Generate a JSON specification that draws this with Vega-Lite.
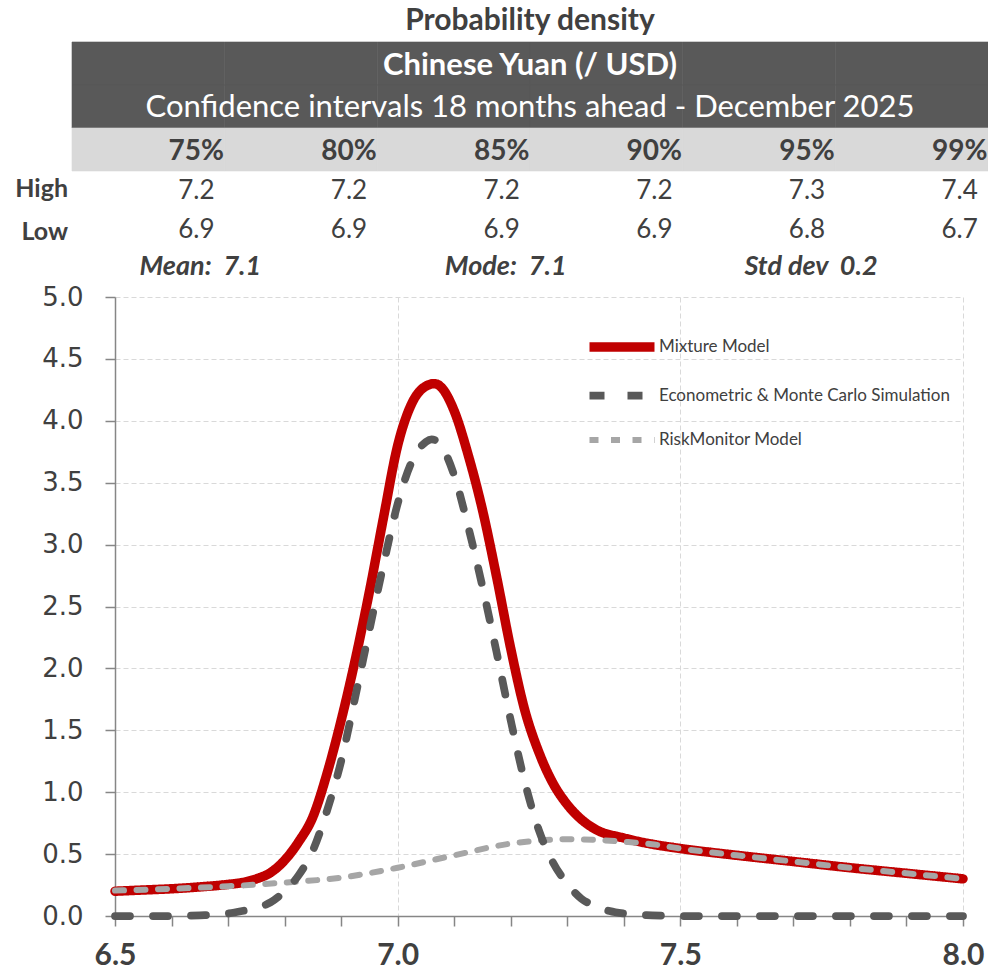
{
  "$schema": "https://vega.github.io/schema/vega-lite/v6.json",
  "width": 848,
  "height": 619,
  "autosize": {"type": "none"},
  "padding": {"left": 115, "top": 297, "right": 25, "bottom": 59},
  "background": "white",
  "config": {
    "view": {"stroke": null},
    "font": "Lato",
    "legend": {
      "orient": "none",
      "legendX": 482,
      "legendY": 25,
      "title": null,
      "symbolType": "M-1.625,0H1.625",
      "symbolSize": 1600,
      "labelFont": "Lato",
      "labelFontSize": 17,
      "labelColor": "#404040",
      "labelLimit": 400,
      "labelOffset": 12,
      "rowPadding": 5.5
    }
  },
  "datasets": {
    "density": [
      {"series": "Mixture Model", "x": 6.5, "y": 0.2},
      {"series": "Mixture Model", "x": 6.55, "y": 0.21},
      {"series": "Mixture Model", "x": 6.6, "y": 0.22},
      {"series": "Mixture Model", "x": 6.65, "y": 0.235},
      {"series": "Mixture Model", "x": 6.7, "y": 0.255},
      {"series": "Mixture Model", "x": 6.725, "y": 0.27},
      {"series": "Mixture Model", "x": 6.75, "y": 0.3},
      {"series": "Mixture Model", "x": 6.775, "y": 0.35},
      {"series": "Mixture Model", "x": 6.8, "y": 0.45},
      {"series": "Mixture Model", "x": 6.825, "y": 0.6},
      {"series": "Mixture Model", "x": 6.85, "y": 0.8},
      {"series": "Mixture Model", "x": 6.875, "y": 1.15},
      {"series": "Mixture Model", "x": 6.9, "y": 1.58},
      {"series": "Mixture Model", "x": 6.925, "y": 2.07},
      {"series": "Mixture Model", "x": 6.95, "y": 2.62},
      {"series": "Mixture Model", "x": 6.975, "y": 3.22},
      {"series": "Mixture Model", "x": 7.0, "y": 3.8},
      {"series": "Mixture Model", "x": 7.025, "y": 4.14},
      {"series": "Mixture Model", "x": 7.05, "y": 4.28},
      {"series": "Mixture Model", "x": 7.065, "y": 4.3},
      {"series": "Mixture Model", "x": 7.075, "y": 4.28},
      {"series": "Mixture Model", "x": 7.1, "y": 4.08},
      {"series": "Mixture Model", "x": 7.125, "y": 3.72},
      {"series": "Mixture Model", "x": 7.15, "y": 3.28},
      {"series": "Mixture Model", "x": 7.175, "y": 2.74},
      {"series": "Mixture Model", "x": 7.2, "y": 2.16},
      {"series": "Mixture Model", "x": 7.225, "y": 1.66},
      {"series": "Mixture Model", "x": 7.25, "y": 1.32},
      {"series": "Mixture Model", "x": 7.275, "y": 1.07},
      {"series": "Mixture Model", "x": 7.3, "y": 0.9},
      {"series": "Mixture Model", "x": 7.325, "y": 0.78},
      {"series": "Mixture Model", "x": 7.35, "y": 0.7},
      {"series": "Mixture Model", "x": 7.4, "y": 0.63},
      {"series": "Mixture Model", "x": 7.45, "y": 0.58},
      {"series": "Mixture Model", "x": 7.5, "y": 0.545},
      {"series": "Mixture Model", "x": 7.6, "y": 0.49},
      {"series": "Mixture Model", "x": 7.7, "y": 0.44},
      {"series": "Mixture Model", "x": 7.8, "y": 0.39},
      {"series": "Mixture Model", "x": 7.9, "y": 0.345},
      {"series": "Mixture Model", "x": 8.0, "y": 0.3},
      {"series": "Econometric & Monte Carlo Simulation", "x": 6.5, "y": 0},
      {"series": "Econometric & Monte Carlo Simulation", "x": 6.6, "y": 0},
      {"series": "Econometric & Monte Carlo Simulation", "x": 6.65, "y": 0.005},
      {"series": "Econometric & Monte Carlo Simulation", "x": 6.7, "y": 0.02},
      {"series": "Econometric & Monte Carlo Simulation", "x": 6.725, "y": 0.04},
      {"series": "Econometric & Monte Carlo Simulation", "x": 6.75, "y": 0.065},
      {"series": "Econometric & Monte Carlo Simulation", "x": 6.775, "y": 0.11},
      {"series": "Econometric & Monte Carlo Simulation", "x": 6.8, "y": 0.2},
      {"series": "Econometric & Monte Carlo Simulation", "x": 6.825, "y": 0.33},
      {"series": "Econometric & Monte Carlo Simulation", "x": 6.85, "y": 0.53},
      {"series": "Econometric & Monte Carlo Simulation", "x": 6.875, "y": 0.85},
      {"series": "Econometric & Monte Carlo Simulation", "x": 6.9, "y": 1.25},
      {"series": "Econometric & Monte Carlo Simulation", "x": 6.925, "y": 1.77},
      {"series": "Econometric & Monte Carlo Simulation", "x": 6.95, "y": 2.31},
      {"series": "Econometric & Monte Carlo Simulation", "x": 6.975, "y": 2.84},
      {"series": "Econometric & Monte Carlo Simulation", "x": 7.0, "y": 3.33},
      {"series": "Econometric & Monte Carlo Simulation", "x": 7.025, "y": 3.67},
      {"series": "Econometric & Monte Carlo Simulation", "x": 7.05, "y": 3.83},
      {"series": "Econometric & Monte Carlo Simulation", "x": 7.06, "y": 3.85},
      {"series": "Econometric & Monte Carlo Simulation", "x": 7.075, "y": 3.81},
      {"series": "Econometric & Monte Carlo Simulation", "x": 7.1, "y": 3.56},
      {"series": "Econometric & Monte Carlo Simulation", "x": 7.125, "y": 3.14},
      {"series": "Econometric & Monte Carlo Simulation", "x": 7.15, "y": 2.66},
      {"series": "Econometric & Monte Carlo Simulation", "x": 7.175, "y": 2.13},
      {"series": "Econometric & Monte Carlo Simulation", "x": 7.2, "y": 1.58},
      {"series": "Econometric & Monte Carlo Simulation", "x": 7.225, "y": 1.08},
      {"series": "Econometric & Monte Carlo Simulation", "x": 7.25, "y": 0.69},
      {"series": "Econometric & Monte Carlo Simulation", "x": 7.275, "y": 0.43},
      {"series": "Econometric & Monte Carlo Simulation", "x": 7.3, "y": 0.26},
      {"series": "Econometric & Monte Carlo Simulation", "x": 7.325, "y": 0.14},
      {"series": "Econometric & Monte Carlo Simulation", "x": 7.35, "y": 0.08},
      {"series": "Econometric & Monte Carlo Simulation", "x": 7.375, "y": 0.04},
      {"series": "Econometric & Monte Carlo Simulation", "x": 7.4, "y": 0.02},
      {"series": "Econometric & Monte Carlo Simulation", "x": 7.45, "y": 0.005},
      {"series": "Econometric & Monte Carlo Simulation", "x": 7.5, "y": 0},
      {"series": "Econometric & Monte Carlo Simulation", "x": 8.0, "y": 0},
      {"series": "RiskMonitor Model", "x": 6.5, "y": 0.205},
      {"series": "RiskMonitor Model", "x": 6.6, "y": 0.22},
      {"series": "RiskMonitor Model", "x": 6.7, "y": 0.24},
      {"series": "RiskMonitor Model", "x": 6.8, "y": 0.27},
      {"series": "RiskMonitor Model", "x": 6.9, "y": 0.31},
      {"series": "RiskMonitor Model", "x": 7.0, "y": 0.39},
      {"series": "RiskMonitor Model", "x": 7.1, "y": 0.49},
      {"series": "RiskMonitor Model", "x": 7.2, "y": 0.585},
      {"series": "RiskMonitor Model", "x": 7.25, "y": 0.61},
      {"series": "RiskMonitor Model", "x": 7.3, "y": 0.62},
      {"series": "RiskMonitor Model", "x": 7.35, "y": 0.615},
      {"series": "RiskMonitor Model", "x": 7.4, "y": 0.6},
      {"series": "RiskMonitor Model", "x": 7.45, "y": 0.58},
      {"series": "RiskMonitor Model", "x": 7.5, "y": 0.545},
      {"series": "RiskMonitor Model", "x": 7.6, "y": 0.49},
      {"series": "RiskMonitor Model", "x": 7.7, "y": 0.44},
      {"series": "RiskMonitor Model", "x": 7.8, "y": 0.39},
      {"series": "RiskMonitor Model", "x": 7.9, "y": 0.345},
      {"series": "RiskMonitor Model", "x": 8.0, "y": 0.3}
    ],
    "table": [
      {"level": "75%", "high": 7.2, "low": 6.9},
      {"level": "80%", "high": 7.2, "low": 6.9},
      {"level": "85%", "high": 7.2, "low": 6.9},
      {"level": "90%", "high": 7.2, "low": 6.9},
      {"level": "95%", "high": 7.3, "low": 6.8},
      {"level": "99%", "high": 7.4, "low": 6.7}
    ],
    "stats": [
      {"level": "75%", "stat": "Mean:\u00a0 7.1"},
      {"level": "85%", "stat": "Mode:\u00a0 7.1"},
      {"level": "95%", "stat": "Std dev\u00a0 0.2"}
    ],
    "rows": [
      {"row": "High"},
      {"row": "Low"}
    ],
    "titles": [
      {"line": "title", "text": "Probability density"},
      {"line": "name", "text": "Chinese Yuan (/ USD)"},
      {"line": "sub", "text": "Confidence intervals 18 months ahead - December 2025"}
    ]
  },
  "layer": [
    {
      "encoding": {
        "x": {
          "field": "x",
          "type": "quantitative",
          "scale": {"domain": [6.5, 8.0], "nice": false, "zero": false},
          "axis": {
            "title": null,
            "values": [6.5, 6.6, 6.7, 6.8, 6.9, 7.0, 7.1, 7.2, 7.3, 7.4, 7.5, 7.6, 7.7, 7.8, 7.9, 8.0],
            "labelExpr": "abs(datum.value*2 - round(datum.value*2)) < 0.001 ? format(datum.value, '.1f') : ''",
            "labelFlush": false,
            "labelOverlap": false,
            "labelFont": "Lato",
            "labelFontSize": 30,
            "labelFontWeight": "bold",
            "labelColor": "#404040",
            "labelPadding": 14,
            "domainColor": "#868686",
            "domainWidth": 1.5,
            "tickColor": "#868686",
            "tickWidth": 1.5,
            "tickSize": 10,
            "grid": true,
            "gridColor": "#D9D9D9",
            "gridDash": [5, 3],
            "gridWidth": 1,
            "gridOpacity": {"condition": {"test": "abs(datum.value*2 - round(datum.value*2)) < 0.001", "value": 1}, "value": 0}
          }
        },
        "y": {
          "field": "y",
          "type": "quantitative",
          "scale": {"domain": [0, 5], "nice": false},
          "axis": {
            "title": null,
            "values": [0, 0.5, 1, 1.5, 2, 2.5, 3, 3.5, 4, 4.5, 5],
            "format": ".1f",
            "labelFont": "DejaVu Sans",
            "labelFontSize": 26,
            "labelColor": "#404040",
            "labelPadding": 22,
            "domainColor": "#868686",
            "domainWidth": 1.5,
            "tickColor": "#868686",
            "tickWidth": 1.5,
            "tickSize": 10,
            "grid": true,
            "gridColor": "#D9D9D9",
            "gridDash": [5, 3],
            "gridWidth": 1
          }
        },
        "color": {
          "field": "series",
          "type": "nominal",
          "scale": {
            "domain": ["Mixture Model", "Econometric & Monte Carlo Simulation", "RiskMonitor Model"],
            "range": ["#C00000", "#595959", "#A6A6A6"]
          }
        },
        "strokeDash": {
          "field": "series",
          "type": "nominal",
          "scale": {
            "domain": ["Mixture Model", "Econometric & Monte Carlo Simulation", "RiskMonitor Model"],
            "range": [[1, 0], [15, 23], [9, 12.5]]
          }
        },
        "strokeWidth": {
          "field": "series",
          "type": "nominal",
          "scale": {
            "domain": ["Mixture Model", "Econometric & Monte Carlo Simulation", "RiskMonitor Model"],
            "range": [9.5, 6, 6]
          }
        }
      },
      "layer": [
        {
          "data": {"name": "density"},
          "transform": [{"filter": "datum.series === 'Mixture Model'"}],
          "mark": {"type": "line", "interpolate": "monotone", "strokeCap": "round", "strokeJoin": "round"}
        },
        {
          "data": {"name": "density"},
          "transform": [{"filter": "datum.series === 'RiskMonitor Model'"}],
          "mark": {"type": "line", "interpolate": "monotone", "strokeCap": "round", "strokeJoin": "round"}
        },
        {
          "data": {"name": "density"},
          "transform": [{"filter": "datum.series === 'Econometric & Monte Carlo Simulation'"}],
          "mark": {"type": "line", "interpolate": "monotone", "strokeCap": "round", "strokeJoin": "round"}
        }
      ]
    },
    {
      "layer": [
        {
          "data": {"name": "table"},
          "mark": {"type": "rect", "fill": "#595959", "stroke": "#595959", "strokeWidth": 0.6},
          "encoding": {
            "x": {"field": "level", "type": "nominal", "axis": null, "scale": {"type": "band", "domain": ["75%", "80%", "85%", "90%", "95%", "99%"], "range": [-43, 873], "paddingInner": 0, "paddingOuter": 0}},
            "y": {"datum": "name", "type": "nominal", "axis": null, "scale": {"type": "band", "domain": ["title", "name", "sub", "pct", "High", "Low", "stats"], "range": [-298, 3], "paddingInner": 0, "paddingOuter": 0}}
          }
        },
        {
          "data": {"name": "table"},
          "mark": {"type": "rect", "fill": "#595959", "stroke": "#595959", "strokeWidth": 0.6},
          "encoding": {
            "x": {"field": "level", "type": "nominal", "axis": null},
            "y": {"datum": "sub", "type": "nominal", "axis": null}
          }
        },
        {
          "data": {"name": "table"},
          "mark": {"type": "rect", "fill": "#D9D9D9", "stroke": "#D9D9D9", "strokeWidth": 0.6},
          "encoding": {
            "x": {"field": "level", "type": "nominal", "axis": null},
            "y": {"datum": "pct", "type": "nominal", "axis": null}
          }
        },
        {
          "data": {"name": "titles"},
          "transform": [{"filter": "datum.line === 'title'"}],
          "mark": {"type": "text", "font": "Lato", "fontSize": 30, "fontWeight": "bold", "color": "#404040", "align": "center", "baseline": "middle", "dy": 0},
          "encoding": {
            "x": {"datum": "90%", "type": "nominal", "bandPosition": 0, "axis": null},
            "y": {"field": "line", "type": "nominal", "bandPosition": 0.5, "axis": null},
            "text": {"field": "text"}
          }
        },
        {
          "data": {"name": "titles"},
          "transform": [{"filter": "datum.line === 'name'"}],
          "mark": {"type": "text", "font": "Lato", "fontSize": 31, "fontWeight": "bold", "color": "white", "align": "center", "baseline": "middle", "dy": 2.5},
          "encoding": {
            "x": {"datum": "90%", "type": "nominal", "bandPosition": 0, "axis": null},
            "y": {"field": "line", "type": "nominal", "bandPosition": 0.5, "axis": null},
            "text": {"field": "text"}
          }
        },
        {
          "data": {"name": "titles"},
          "transform": [{"filter": "datum.line === 'sub'"}],
          "mark": {"type": "text", "font": "Lato", "fontSize": 31, "color": "white", "align": "center", "baseline": "middle", "dy": 1.5},
          "encoding": {
            "x": {"datum": "90%", "type": "nominal", "bandPosition": 0, "axis": null},
            "y": {"field": "line", "type": "nominal", "bandPosition": 0.5, "axis": null},
            "text": {"field": "text"}
          }
        },
        {
          "data": {"name": "table"},
          "mark": {"type": "text", "font": "Lato", "fontSize": 28, "fontWeight": "bold", "color": "#404040", "align": "center", "baseline": "middle", "dx": 48, "dy": 2.5},
          "encoding": {
            "x": {"field": "level", "type": "nominal", "bandPosition": 0.5, "axis": null},
            "y": {"datum": "pct", "type": "nominal", "bandPosition": 0.5, "axis": null},
            "text": {"field": "level"}
          }
        },
        {
          "data": {"name": "table"},
          "mark": {"type": "text", "font": "Lato", "fontSize": 26, "color": "#404040", "align": "center", "baseline": "middle", "dx": 48, "dy": -1.5},
          "encoding": {
            "x": {"field": "level", "type": "nominal", "bandPosition": 0.5, "axis": null},
            "y": {"datum": "High", "type": "nominal", "bandPosition": 0.5, "axis": null},
            "text": {"field": "high", "type": "quantitative", "format": ".1f"}
          }
        },
        {
          "data": {"name": "table"},
          "mark": {"type": "text", "font": "Lato", "fontSize": 26, "color": "#404040", "align": "center", "baseline": "middle", "dx": 48, "dy": -5.5},
          "encoding": {
            "x": {"field": "level", "type": "nominal", "bandPosition": 0.5, "axis": null},
            "y": {"datum": "Low", "type": "nominal", "bandPosition": 0.5, "axis": null},
            "text": {"field": "low", "type": "quantitative", "format": ".1f"}
          }
        },
        {
          "data": {"name": "rows"},
          "mark": {"type": "text", "font": "Lato", "fontSize": 25, "fontWeight": "bold", "color": "#404040", "align": "right", "baseline": "middle", "dx": -4, "dy": -3.5},
          "encoding": {
            "x": {"datum": "75%", "type": "nominal", "bandPosition": 0, "axis": null},
            "y": {"field": "row", "type": "nominal", "bandPosition": 0.5, "axis": null},
            "text": {"field": "row"}
          }
        },
        {
          "data": {"name": "stats"},
          "mark": {"type": "text", "font": "Lato", "fontSize": 27, "fontWeight": "bold", "fontStyle": "italic", "color": "#404040", "align": "center", "baseline": "middle", "dx": 52, "dy": -11.5},
          "encoding": {
            "x": {"field": "level", "type": "nominal", "bandPosition": 0.5, "axis": null},
            "y": {"datum": "stats", "type": "nominal", "bandPosition": 0.5, "axis": null},
            "text": {"field": "stat"}
          }
        }
      ]
    }
  ],
  "resolve": {"scale": {"x": "independent", "y": "independent"}}
}
